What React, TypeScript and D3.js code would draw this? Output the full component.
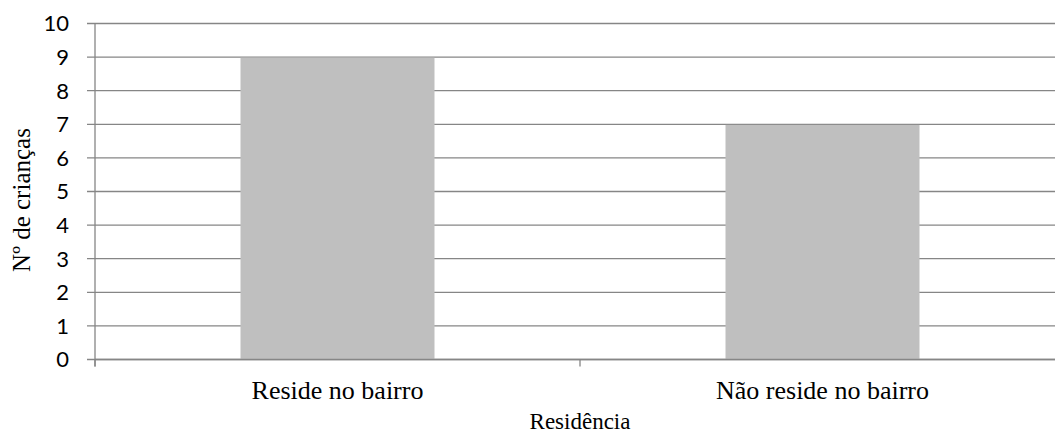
import React, { useEffect, useRef } from 'react';
import * as d3 from 'd3';

const categories = ['Reside no bairro', 'Não reside no bairro'];
const values = [9, 7];
const yTicks = [0, 1, 2, 3, 4, 5, 6, 7, 8, 9, 10];
const xTitle = 'Residência';
const yTitle = 'Nº de crianças';

const WIDTH = 1055;
const HEIGHT = 436;

export default function App() {
  const svgRef = useRef<SVGSVGElement>(null);

  useEffect(() => {
    if (!svgRef.current) return;
    const svg = d3.select(svgRef.current);
    svg.selectAll('*').remove();

    const left = 95;
    const right = 1065;
    const top = 23.5;
    const bottom = 359.5;
    const gridColor = '#868686';

    const x = d3.scaleBand<string>()
      .domain(categories)
      .range([left, right])
      .padding(0);

    const y = d3.scaleLinear()
      .domain([0, 10])
      .range([bottom, top]);

    // gridlines + y tick marks
    svg.append('g')
      .selectAll('line')
      .data(yTicks)
      .join('line')
      .attr('x1', left - 8)
      .attr('x2', right)
      .attr('y1', d => y(d))
      .attr('y2', d => y(d))
      .attr('stroke', gridColor)
      .attr('stroke-width', 1.3);

    // bars
    const barW = x.bandwidth() * 0.4;
    svg.append('g')
      .selectAll('rect')
      .data(values)
      .join('rect')
      .attr('x', (_, i) => (x(categories[i]) ?? 0) + (x.bandwidth() - barW) / 2)
      .attr('y', d => y(d) + 0.6)
      .attr('width', barW)
      .attr('height', d => y(0) - y(d) - 0.6)
      .attr('fill', '#bfbfbf');

    // y axis line
    svg.append('line')
      .attr('x1', left)
      .attr('x2', left)
      .attr('y1', top)
      .attr('y2', bottom + 7)
      .attr('stroke', gridColor)
      .attr('stroke-width', 1.3);

    // x axis line
    svg.append('line')
      .attr('x1', left)
      .attr('x2', right)
      .attr('y1', bottom)
      .attr('y2', bottom)
      .attr('stroke', gridColor)
      .attr('stroke-width', 1.3);

    // x tick marks at category boundaries
    const boundaries = categories.map(c => x(c) ?? 0).concat([right]);
    svg.append('g')
      .selectAll('line')
      .data(boundaries)
      .join('line')
      .attr('x1', d => d)
      .attr('x2', d => d)
      .attr('y1', bottom)
      .attr('y2', bottom + 7)
      .attr('stroke', gridColor)
      .attr('stroke-width', 1.3);

    // y tick labels
    svg.append('g')
      .selectAll('text')
      .data(yTicks)
      .join('text')
      .attr('x', 69)
      .attr('y', d => y(d))
      .attr('dy', '0.36em')
      .attr('text-anchor', 'end')
      .attr('font-family', 'Lato, "Open Sans", sans-serif')
      .attr('font-size', 22)
      .attr('fill', '#000')
      .text(d => d);

    // category labels
    svg.append('g')
      .selectAll('text')
      .data(categories)
      .join('text')
      .attr('x', d => (x(d) ?? 0) + x.bandwidth() / 2)
      .attr('y', 399)
      .attr('text-anchor', 'middle')
      .attr('font-family', '"Liberation Serif", "Times New Roman", serif')
      .attr('font-size', 26)
      .attr('fill', '#000')
      .text(d => d);

    // x title
    svg.append('text')
      .attr('x', 580)
      .attr('y', 429)
      .attr('text-anchor', 'middle')
      .attr('font-family', '"Liberation Serif", "Times New Roman", serif')
      .attr('font-size', 23)
      .attr('fill', '#000')
      .text(xTitle);

    // y title
    svg.append('text')
      .attr('transform', 'translate(30,200) rotate(-90)')
      .attr('text-anchor', 'middle')
      .attr('font-family', '"Liberation Serif", "Times New Roman", serif')
      .attr('font-size', 25)
      .attr('fill', '#000')
      .text(yTitle);
  }, []);

  return (
    <div style={{ position: 'absolute', left: 0, top: 0, width: WIDTH, height: HEIGHT, background: '#fff' }}>
      <svg ref={svgRef} width={WIDTH} height={HEIGHT} style={{ display: 'block' }} />
    </div>
  );
}
